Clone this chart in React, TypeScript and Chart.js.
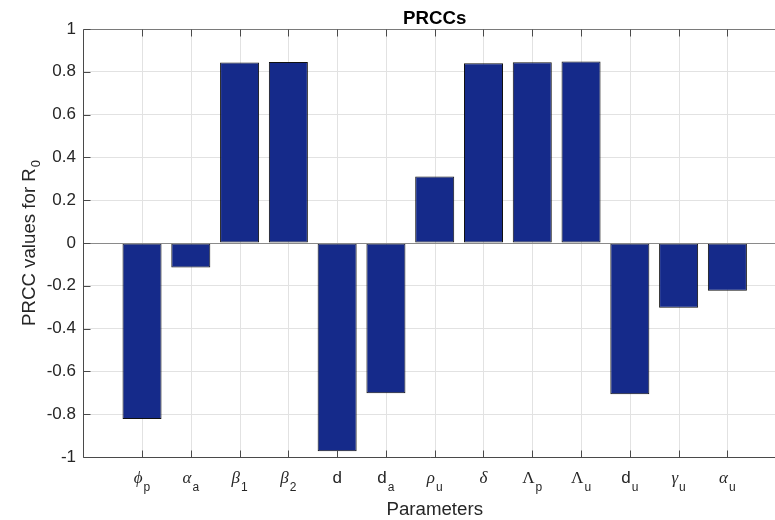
import React, { useEffect, useRef } from 'react';
import { Chart, registerables } from 'chart.js';

Chart.register(...registerables);

// ---- data ----
const paramBase = ['ϕ', 'α', 'β', 'β', 'd', 'd', 'ρ', 'δ', 'Λ', 'Λ', 'd', 'γ', 'α'];
const paramSub = ['p', 'a', '1', '2', '', 'a', 'u', '', 'p', 'u', 'u', 'u', 'u'];
const prccValues = [-0.822, -0.115, 0.843, 0.846, -0.973, -0.702, 0.311, 0.84, 0.845, 0.848, -0.707, -0.303, -0.223];
const yMin = -1;
const yMax = 1;
const yStep = 0.2;
const xMin = -0.21;
const xMax = 14.017;
const xFullMax = 14.21; // axis limit of the full (cropped) axes, used for centring titles
const chartTitle = 'PRCCs';
const xTitle = 'Parameters';
const yTitleMain = 'PRCC values for R';
const yTitleSub = '0';

const SANS = '"Liberation Sans", Arial, Helvetica, sans-serif';
const SERIF = '"Liberation Serif", "DejaVu Serif", serif';
const TEXT = '#262626';
const GRID = '#e2e2e2';

function baseFont(ch: string): string {
  if (/[A-Za-z]/.test(ch)) return `17px ${SANS}`;
  if (ch === 'Λ') return `17px ${SERIF}`;
  return `italic 17px ${SERIF}`;
}

export default function App() {
  const ref = useRef<HTMLCanvasElement>(null);

  useEffect(() => {
    const canvas = ref.current;
    if (!canvas) return;
    const positions = paramBase.map((_, i) => i + 1);

    const decor = {
      id: 'matlabDecor',
      beforeDatasetsDraw(chart: any) {
        const { ctx, chartArea: a, scales } = chart;
        const x = scales.x;
        ctx.save();
        ctx.lineWidth = 1;
        ctx.strokeStyle = GRID;
        ctx.beginPath();
        positions.forEach((p) => {
          const px = Math.round(x.getPixelForValue(p)) + 0.5;
          ctx.moveTo(px, a.top);
          ctx.lineTo(px, a.bottom);
        });
        ctx.stroke();
        ctx.restore();
      },
      afterDatasetsDraw(chart: any) {
        const { ctx, chartArea: a, scales } = chart;
        const x = scales.x;
        const y = scales.y;
        ctx.save();
        ctx.lineWidth = 1;
        // zero baseline
        const y0 = Math.round(y.getPixelForValue(0)) + 0.5;
        ctx.strokeStyle = '#8a8a8a';
        ctx.beginPath();
        ctx.moveTo(a.left, y0);
        ctx.lineTo(a.right, y0);
        ctx.stroke();
        // box (right side lies outside the picture)
        const L = Math.round(a.left) + 0.5;
        const T = Math.round(a.top) + 0.5;
        const B = Math.round(a.bottom) + 0.5;
        const R = a.right;
        ctx.strokeStyle = '#4a4a4a';
        ctx.beginPath();
        ctx.moveTo(L, T);
        ctx.lineTo(L, B);
        ctx.lineTo(R, B);
        ctx.stroke();
        ctx.strokeStyle = '#7a7a7a';
        ctx.beginPath();
        ctx.moveTo(L, T);
        ctx.lineTo(R, T);
        ctx.stroke();
        // ticks (inward)
        const tl = 7;
        ctx.strokeStyle = '#4a4a4a';
        ctx.beginPath();
        positions.forEach((p) => {
          const px = Math.round(x.getPixelForValue(p)) + 0.5;
          ctx.moveTo(px, B);
          ctx.lineTo(px, B - tl);
          ctx.moveTo(px, T);
          ctx.lineTo(px, T + tl);
        });
        y.ticks.forEach((t: any) => {
          const py = Math.round(y.getPixelForValue(t.value)) + 0.5;
          ctx.moveTo(L, py);
          ctx.lineTo(L + tl, py);
        });
        ctx.stroke();
        ctx.restore();
      },
      afterDraw(chart: any) {
        const { ctx, chartArea: a, scales } = chart;
        const x = scales.x;
        ctx.save();
        ctx.fillStyle = TEXT;
        ctx.textBaseline = 'alphabetic';
        ctx.textAlign = 'left';
        // x tick labels with subscripts
        const baseY = a.bottom + 25.5;
        const subY = baseY + 8.5;
        const subFont = `12px ${SANS}`;
        positions.forEach((p, i) => {
          const b = paramBase[i];
          const s = paramSub[i];
          ctx.font = baseFont(b);
          const wb = ctx.measureText(b).width;
          ctx.font = subFont;
          const ws = s ? ctx.measureText(s).width : 0;
          const gap = s ? 1 : 0;
          const total = wb + gap + ws;
          const cx = x.getPixelForValue(p);
          const start = cx - total / 2;
          ctx.font = baseFont(b);
          ctx.fillText(b, start, baseY);
          if (s) {
            ctx.font = subFont;
            ctx.fillText(s, start + wb + gap, subY);
          }
        });
        // x title, centred on the full axes
        const midX = (a.left + x.getPixelForValue(xFullMax)) / 2;
        ctx.font = `18.7px ${SANS}`;
        ctx.textAlign = 'center';
        ctx.fillText(xTitle, midX, 515);
        // chart title
        ctx.font = `bold 18.7px ${SANS}`;
        ctx.fillStyle = '#000';
        ctx.fillText(chartTitle, midX, 24);
        // y title rotated
        ctx.fillStyle = TEXT;
        const midY = (a.top + a.bottom) / 2;
        ctx.font = `18.7px ${SANS}`;
        const wm = ctx.measureText(yTitleMain).width;
        ctx.font = `13px ${SANS}`;
        const wsub = ctx.measureText(yTitleSub).width;
        const tot = wm + 1 + wsub;
        ctx.translate(35, midY);
        ctx.rotate(-Math.PI / 2);
        ctx.textAlign = 'left';
        ctx.font = `18.7px ${SANS}`;
        ctx.fillText(yTitleMain, -tot / 2, 0);
        ctx.font = `13px ${SANS}`;
        ctx.fillText(yTitleSub, -tot / 2 + wm + 1, 5);
        ctx.restore();
      },
    };

    const chart = new Chart(canvas, {
      type: 'bar',
      data: {
        datasets: [
          {
            data: positions.map((p, i) => ({ x: p, y: prccValues[i] })),
            backgroundColor: '#152a8a',
            borderColor: '#111111',
            borderWidth: 1,
            borderSkipped: false,
            barPercentage: 0.8,
            categoryPercentage: 1,
          },
        ],
      },
      options: {
        responsive: false,
        animation: false,
        devicePixelRatio: 1,
        layout: { padding: { top: 29, right: 0, left: 0, bottom: 0 } },
        plugins: {
          legend: { display: false },
          title: { display: false },
          tooltip: { enabled: false },
        },
        scales: {
          x: {
            type: 'linear',
            min: xMin,
            max: xMax,
            offset: false,
            afterBuildTicks: (scale: any) => {
              scale.ticks = positions.map((p) => ({ value: p }));
            },
            afterFit: (scale: any) => {
              scale.height = 63;
            },
            ticks: { display: false },
            grid: { display: false },
            border: { display: false },
          },
          y: {
            type: 'linear',
            min: yMin,
            max: yMax,
            afterFit: (scale: any) => {
              scale.width = 83;
            },
            ticks: {
              stepSize: yStep,
              padding: 7,
              color: TEXT,
              font: { family: SANS, size: 17 },
              callback: (v: any) => String(Number(Number(v).toFixed(1))),
            },
            grid: { color: GRID, lineWidth: 1, drawTicks: false },
            border: { display: false },
          },
        },
      },
      plugins: [decor],
    });
    return () => chart.destroy();
  }, []);

  return (
    <div
      style={{
        position: 'absolute',
        left: 0,
        top: 0,
        width: 775,
        height: 520,
        overflow: 'hidden',
        background: '#fff',
      }}
    >
      <canvas ref={ref} width={777} height={520} style={{ display: 'block' }} />
    </div>
  );
}
